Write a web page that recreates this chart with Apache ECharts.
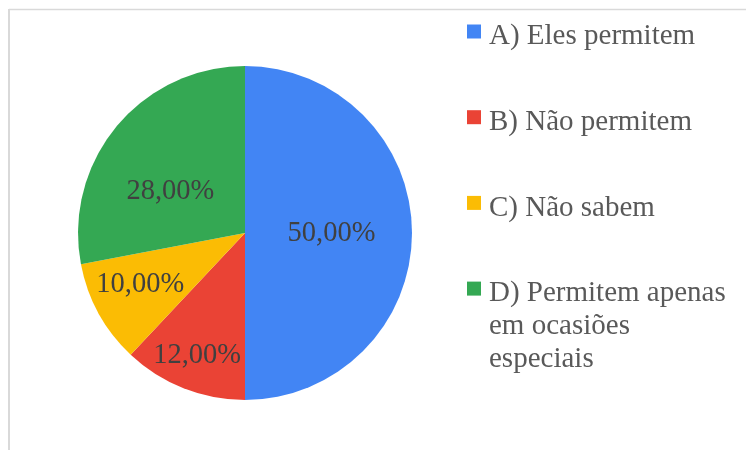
<!DOCTYPE html>
<html>
<head>
<meta charset="utf-8">
<script src="https://cdn.jsdelivr.net/npm/echarts@6/dist/echarts.min.js"></script>
<style>
  html, body { margin: 0; padding: 0; background: #fff; }
  #main { width: 746px; height: 450px; }
</style>
</head>
<body>
<div id="main"></div>
<script>
// dados do gráfico
const categorias = ['A) Eles permitem', 'B) Não permitem', 'C) Não sabem', 'D) Permitem apenas\nem ocasiões\nespeciais'];
const valores = [50, 12, 10, 28];
const cores = ['#4285F4', '#EA4335', '#FBBC04', '#34A853'];

// deslocamento dos rótulos (como o Excel posiciona)
const deslocRotulo = [[0, 1], [-16, 42], [-29, 10], [-8, 14]];

const chart = echarts.init(document.getElementById('main'));

const option = {
  backgroundColor: '#fff',
  animation: false,
  graphic: [
    { type: 'line', shape: { x1: 9, y1: 9.5, x2: 746, y2: 9.5 }, style: { stroke: '#d9d9d9', lineWidth: 1.5 } },
    { type: 'line', shape: { x1: 9, y1: 9, x2: 9, y2: 450 }, style: { stroke: '#d9d9d9', lineWidth: 2 } }
  ],
  legend: {
    orient: 'vertical',
    left: 467,
    top: 22,
    padding: 0,
    itemGap: 56.7,
    itemWidth: 14,
    itemHeight: 14,
    icon: 'rect',
    selectedMode: false,
    data: categorias,
    // rich text: a primeira linha fica alinhada com o quadrado
    formatter: function (nome) {
      return nome.split('\n').map(function (l) { return '{t|' + l + '}'; }).join('\n');
    },
    textStyle: {
      height: 23,
      padding: [0, 0, 0, 3],
      rich: {
        t: {
          fontFamily: 'Liberation Serif',
          fontSize: 29,
          color: '#595959',
          lineHeight: 33
        }
      }
    }
  },
  series: [{
    type: 'pie',
    center: [245, 233],
    radius: 167,
    startAngle: 90,
    clockwise: true,
    avoidLabelOverlap: false,
    label: {
      show: true,
      position: 'inside',
      fontFamily: 'Liberation Serif',
      fontSize: 28.5,
      color: '#404040',
      formatter: function (p) { return p.value.toFixed(2).replace('.', ',') + '%'; }
    },
    labelLine: { show: false },
    labelLayout: function (p) {
      const d = deslocRotulo[p.dataIndex];
      return { dx: d[0], dy: d[1] };
    },
    itemStyle: { borderWidth: 0 },
    emphasis: { disabled: true },
    data: categorias.map(function (nome, i) {
      return { name: nome, value: valores[i], itemStyle: { color: cores[i] } };
    })
  }]
};

chart.setOption(option);
</script>
</body>
</html>
